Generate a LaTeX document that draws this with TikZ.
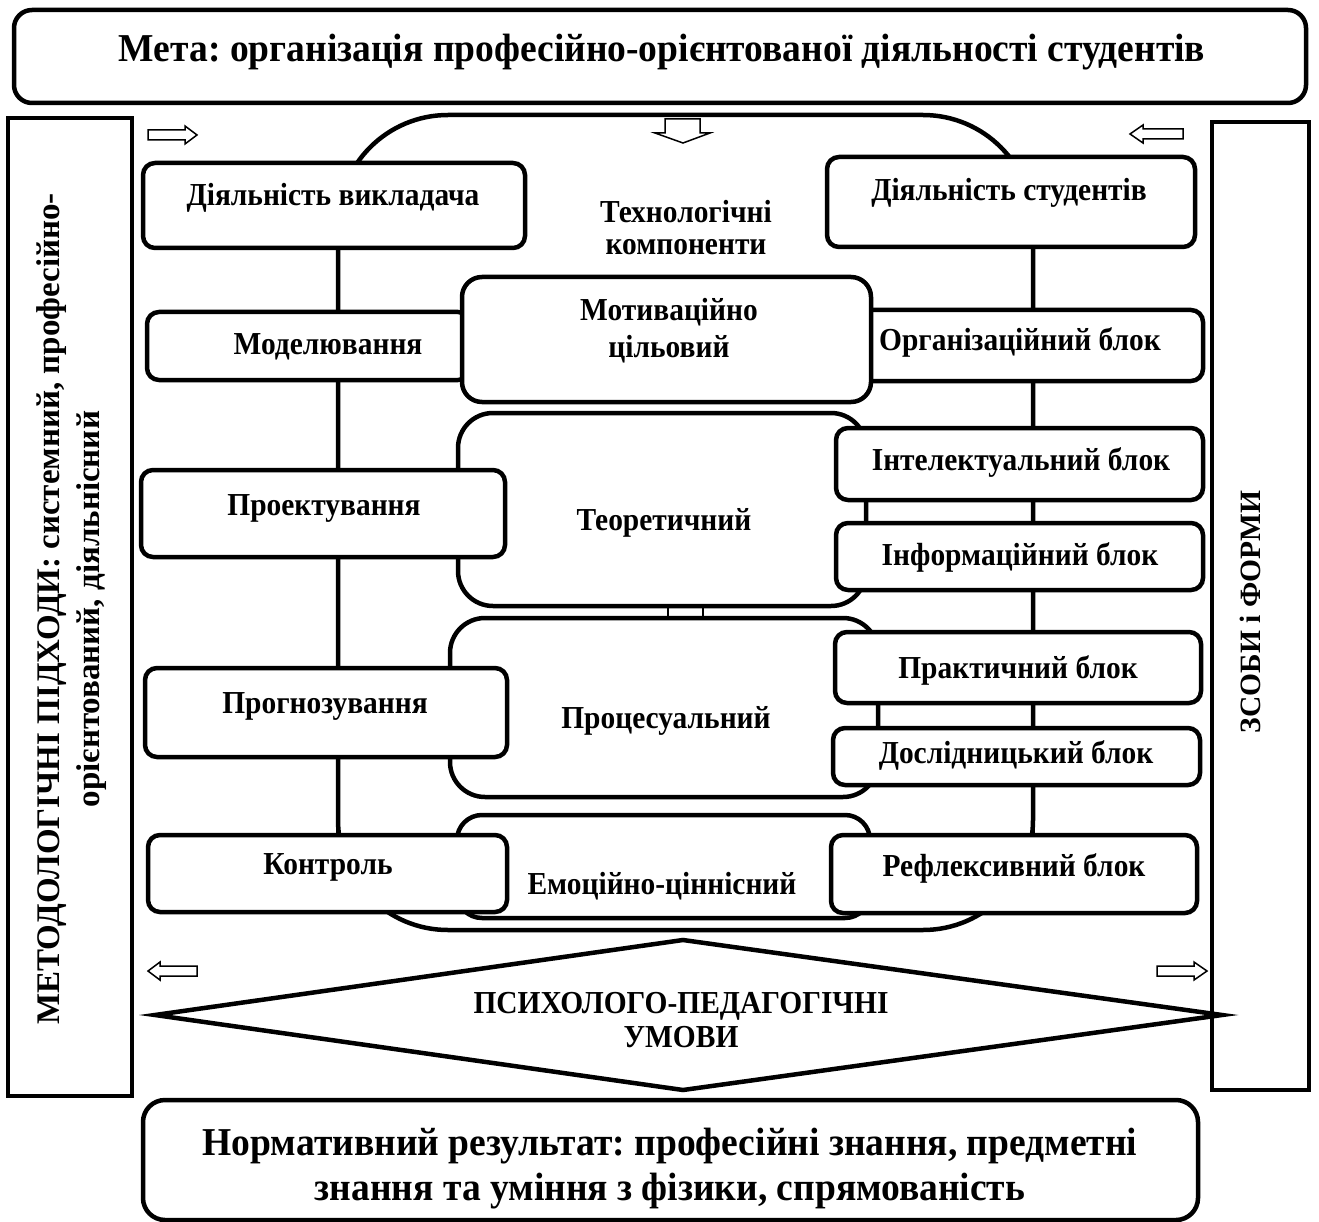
\documentclass[tikz,border=0pt]{standalone}
\usepackage{fontspec}
\setmainfont{Liberation Serif}
\newfontfamily\condfont{Liberation Serif}[FakeStretch=0.92]
\newfontfamily\titlefont{Liberation Serif}[FakeStretch=0.95]
\frenchspacing
\usetikzlibrary{fit}
\newcommand\bx[6][]{\node[box,#1,fit={(#3,#4) (#5,#6)}] (#2) {};}
\begin{document}
\begin{tikzpicture}[x=1pt,y=-1pt,
  box/.style={draw, line width=4.5pt, fill=white, rounded corners=12pt, inner sep=0pt},
  conn/.style={line width=3.5pt},
  thinln/.style={line width=1.5pt},
  txt/.style={font=\condfont\bfseries\fontsize{32}{34}\selectfont, align=center, inner sep=0pt, text height=21pt, text depth=0pt},
  txtm/.style={font=\condfont\bfseries\fontsize{32}{32}\selectfont, align=center, inner sep=0pt},
  big/.style={font=\titlefont\bfseries\fontsize{39.5}{45}\selectfont, align=center, inner sep=0pt}]
\useasboundingbox (0,0) rectangle (1319,1222);
\fill[white] (0,0) rectangle (1319,1222);
% frame boxes
\bx[rounded corners=18pt]{goal}{14}{10}{1306}{103}
\bx[rounded corners=0pt]{meth}{8}{118}{132}{1096}
\bx[rounded corners=0pt]{means}{1212}{122}{1309}{1090}
% technological components region
\node[draw, line width=4.5pt, rounded corners=110pt, inner sep=0pt, fit={(338,115) (1033,930)}] (tech) {};
\coordinate (xl) at (338,0);
\coordinate (xr) at (1033,0);
\coordinate (xm1) at (668,0);
\coordinate (xm2) at (703,0);
% boxes lying behind
\bx{mod}{147}{312}{470}{380}
\bx{org}{860}{310}{1203}{381}
% middle boxes
\bx[rounded corners=20pt]{mot}{462}{277}{871}{402}
\bx[rounded corners=35pt]{teo}{458}{413}{866}{606}
\bx[rounded corners=35pt]{proc}{450}{618}{878}{797}
\bx[rounded corners=25pt]{emo}{457}{815}{870}{918}
% connectors between middle blocks
\draw[thinln] (teo.south -| xm1) -- (proc.north -| xm1);
\draw[thinln] (teo.south -| xm2) -- (proc.north -| xm2);
% left boxes
\bx{dv}{143}{163}{525}{248}
\bx{pro}{141}{470}{505}{557}
\bx{prog}{145}{668}{507}{757}
\bx{kon}{148}{835}{507}{912}
% right boxes
\bx{ds}{827}{157}{1195}{247}
\bx{int}{836}{428}{1203}{500}
\bx{inf}{836}{523}{1203}{590}
\bx{pr}{835}{632}{1201}{703}
\bx{dos}{833}{728}{1200}{785}
\bx{ref}{831}{835}{1197}{913}
% chain connectors
\draw[conn] (dv.south -| xl) -- (mod.north -| xl);
\draw[conn] (mod.south -| xl) -- (pro.north -| xl);
\draw[conn] (pro.south -| xl) -- (prog.north -| xl);
\draw[conn] (prog.south -| xl) -- (kon.north -| xl);
\draw[conn] (ds.south -| xr) -- (org.north -| xr);
\draw[conn] (org.south -| xr) -- (int.north -| xr);
\draw[conn] (int.south -| xr) -- (inf.north -| xr);
\draw[conn] (inf.south -| xr) -- (pr.north -| xr);
\draw[conn] (pr.south -| xr) -- (dos.north -| xr);
\draw[conn] (dos.south -| xr) -- (ref.north -| xr);
% diamond
\draw[line width=4.5pt, line join=miter, fill=white] (155,1015) coordinate (dl) -- (683,940) coordinate (dt) -- (1222,1015) coordinate (dr) -- (683,1090) coordinate (db) -- cycle;
% result box
\bx[rounded corners=22pt]{res}{143}{1100}{1198}{1220}
% hollow arrows
\draw[thinln, line join=miter] (148,130) -- (185,130) -- (185,126) -- (197,135) -- (185,144) -- (185,140) -- (148,140) -- cycle;
\draw[thinln, line join=miter] (1183,129) -- (1143,129) -- (1143,125) -- (1130,134) -- (1143,143) -- (1143,139) -- (1183,139) -- cycle;
\draw[thinln, line join=miter] (197,966) -- (160,966) -- (160,962) -- (148,971) -- (160,980) -- (160,976) -- (197,976) -- cycle;
\draw[thinln, line join=miter] (1157,966) -- (1194,966) -- (1194,962) -- (1207,971) -- (1194,980) -- (1194,976) -- (1157,976) -- cycle;
\draw[thinln, line join=miter] (665,119) -- (700,119) -- (700,133) -- (710,133) -- (683,143) -- (655,133) -- (665,133) -- cycle;
% texts
\node[big, text height=26pt, text depth=0pt] (goalt) at (662,49) {Мета: організація професійно-орієнтованої діяльності студентів};
\node[font=\bfseries\fontsize{33}{40}\selectfont, align=center, inner sep=0pt, rotate=90] (metht) at (72,609) {МЕТОДОЛОГІЧНІ ПІДХОДИ: системний, професійно-\\орієнтований, діяльнісний};
\node[font=\bfseries\fontsize{29.5}{34}\selectfont, inner sep=0pt, rotate=90, text height=19.5pt, text depth=0pt] (meanst) at (1251,612) {ЗСОБИ і ФОРМИ};
\node[txt] (dvt) at (333,195) {Діяльність викладача};
\node[txt] (modt) at (328,344) {Моделювання};
\node[txt] (prot) at (324,505) {Проектування};
\node[txt] (progt) at (325,703) {Прогнозування};
\node[txt] (kont) at (328,864) {Контроль};
\node[txtm] (techt) at (686,228) {Технологічні\\компоненти};
\node[txtm, font=\condfont\bfseries\fontsize{32}{37}\selectfont] (mott) at (669,331) {Мотиваційно\\цільовий};
\node[txt] (teot) at (664,520) {Теоретичний};
\node[txt] (proct) at (666,718) {Процесуальний};
\node[txt] (emot) at (662,884) {Емоційно-ціннісний};
\node[txt] (dst) at (1009,190) {Діяльність студентів};
\node[txt] (orgt) at (1020,340) {Організаційний блок};
\node[txt] (intt) at (1021,460) {Інтелектуальний блок};
\node[txt] (inft) at (1020,555) {Інформаційний блок};
\node[txt] (prt) at (1018,668) {Практичний блок};
\node[txt] (dost) at (1016,753) {Дослідницький блок};
\node[txt] (reft) at (1014,866) {Рефлексивний блок};
\node[txtm, font=\condfont\bfseries\fontsize{32}{34}\selectfont] (cond) at (681,1020) {ПСИХОЛОГО-ПЕДАГОГІЧНІ\\УМОВИ};
\node[big] (rest) at (670,1169) {Нормативний результат: професійні знання, предметні\\знання та уміння з фізики, спрямованість};
\end{tikzpicture}
\end{document}
